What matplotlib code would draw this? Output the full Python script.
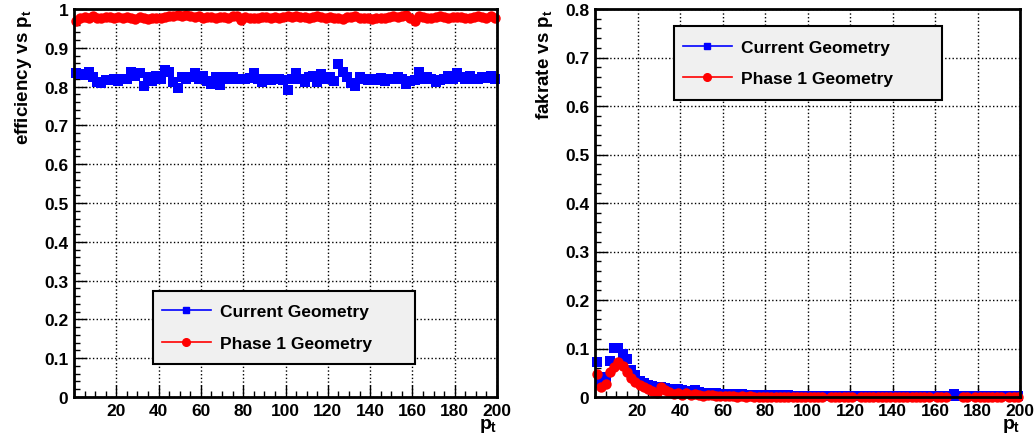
import numpy as np
import matplotlib.pyplot as plt
from matplotlib.lines import Line2D
from matplotlib.patches import Rectangle
from matplotlib.ticker import MultipleLocator

plt.rcParams['font.family'] = ['Liberation Sans', 'DejaVu Sans']
plt.rcParams['font.weight'] = 'bold'
plt.rcParams['mathtext.fontset'] = 'custom'
plt.rcParams['mathtext.rm'] = 'Liberation Sans:bold'
plt.rcParams['mathtext.it'] = 'Liberation Sans:bold'
plt.rcParams['mathtext.bf'] = 'Liberation Sans:bold'

# pt bins: 100 bins of width 2 from 0 to 200
pt = np.arange(1, 200, 2)

eff_current = [
    0.836, 0.832, 0.829, 0.838, 0.825, 0.812, 0.808, 0.816, 0.818, 0.819,
    0.815, 0.819, 0.820, 0.838, 0.828, 0.834, 0.801, 0.826, 0.815, 0.828,
    0.820, 0.844, 0.838, 0.812, 0.797, 0.826, 0.819, 0.824, 0.836, 0.820,
    0.828, 0.815, 0.806, 0.826, 0.804, 0.826, 0.819, 0.826, 0.820, 0.819,
    0.820, 0.822, 0.836, 0.819, 0.812, 0.819, 0.817, 0.819, 0.820, 0.818,
    0.791, 0.819, 0.834, 0.819, 0.812, 0.826, 0.828, 0.812, 0.832, 0.819,
    0.824, 0.815, 0.857, 0.838, 0.826, 0.810, 0.802, 0.826, 0.819, 0.817,
    0.819, 0.818, 0.821, 0.815, 0.819, 0.819, 0.826, 0.820, 0.806, 0.815,
    0.817, 0.838, 0.819, 0.826, 0.819, 0.812, 0.818, 0.819, 0.828, 0.819,
    0.834, 0.826, 0.819, 0.828, 0.820, 0.819, 0.826, 0.822, 0.828, 0.819,
]
eff_phase1 = [
    0.968, 0.976, 0.979, 0.978, 0.981, 0.976, 0.978, 0.980, 0.979, 0.977,
    0.979, 0.978, 0.980, 0.978, 0.975, 0.979, 0.976, 0.974, 0.977, 0.976,
    0.978, 0.979, 0.981, 0.982, 0.984, 0.983, 0.985, 0.982, 0.979, 0.981,
    0.978, 0.980, 0.979, 0.977, 0.979, 0.980, 0.978, 0.981, 0.983, 0.971,
    0.979, 0.977, 0.978, 0.976, 0.980, 0.979, 0.977, 0.979, 0.978, 0.980,
    0.981, 0.979, 0.983, 0.980, 0.979, 0.977, 0.979, 0.981, 0.979, 0.978,
    0.980, 0.977, 0.976, 0.974, 0.979, 0.980, 0.981, 0.978, 0.977, 0.976,
    0.975, 0.976, 0.977, 0.978, 0.980, 0.981, 0.979, 0.983, 0.985, 0.976,
    0.970, 0.982, 0.979, 0.978, 0.977, 0.979, 0.981, 0.980, 0.978, 0.979,
    0.980, 0.979, 0.977, 0.978, 0.980, 0.981, 0.979, 0.978, 0.981, 0.977,
]

fake_current = [
    0.072, 0.031, 0.041, 0.075, 0.101, 0.101, 0.089, 0.078, 0.055, 0.045,
    0.033, 0.028, 0.024, 0.022, 0.021, 0.020, 0.018, 0.016, 0.015, 0.016,
    0.014, 0.012, 0.013, 0.015, 0.011, 0.008, 0.009, 0.007, 0.008, 0.007,
    0.007, 0.006, 0.006, 0.005, 0.006, 0.005, 0.004, 0.005, 0.004, 0.004,
    0.004, 0.003, 0.004, 0.003, 0.004, 0.004, 0.003, 0.003, 0.003, 0.003,
    0.003, 0.002, 0.003, 0.003, 0.002, 0.003, 0.002, 0.003, 0.002, 0.002,
    0.003, 0.002, 0.002, 0.003, 0.002, 0.002, 0.003, 0.002, 0.002, 0.002,
    0.003, 0.002, 0.002, 0.002, 0.003, 0.002, 0.003, 0.002, 0.002, 0.002,
    0.002, 0.002, 0.002, 0.003, 0.006, 0.003, 0.002, 0.002, 0.002, 0.002,
    0.002, 0.002, 0.002, 0.002, 0.002, 0.002, 0.002, 0.003, 0.002, 0.002,
]
# empty bins are left undrawn
nan = np.nan
fake_phase1 = [
    0.048, 0.021, 0.027, 0.052, 0.062, 0.072, 0.064, 0.052, 0.040, 0.031,
    0.024, 0.020, 0.017, 0.012, 0.009, 0.021, 0.015, 0.010, 0.006, 0.009,
    0.004, 0.008, 0.005, 0.007, 0.004, 0.003, 0.005, 0.004, 0.003, 0.003,
    0.002, 0.002, 0.002, 0.001, 0.002, 0.001, 0.002, 0.001, 0.001, 0.001,
    0.001, 0.001, 0.001, 0.001, 0.001, 0.001, 0.001, 0.001, 0.001, 0.001,
    0.001, 0.001, 0.001, 0.001, nan, 0.001, 0.001, 0.001, 0.001, 0.001,
    0.001, nan, 0.001, 0.001, 0.001, 0.001, 0.001, 0.001, 0.001, 0.001,
    0.001, 0.001, 0.001, 0.001, 0.001, 0.001, 0.001, 0.001, 0.001, nan,
    0.001, 0.001, 0.001, nan, nan, nan, 0.001, 0.001, nan, 0.001,
    0.001, 0.001, 0.001, 0.001, 0.001, 0.001, nan, 0.001, 0.001, 0.001,
]

labels = ['Current Geometry', 'Phase 1 Geometry']

W, H = 1035, 439
fig = plt.figure(figsize=(W / 100, H / 100), dpi=100)

SQ, CI = 6.5, 7.5  # marker sizes


def px_axes(x0, x1, y0, y1):
    return fig.add_axes([x0 / W, 1 - y1 / H, (x1 - x0) / W, (y1 - y0) / H])


def style(ax, ymax, ylabel):
    ax.set_xlim(0, 200)
    ax.set_ylim(0, ymax)
    ax.xaxis.set_minor_locator(MultipleLocator(5))
    ax.yaxis.set_minor_locator(MultipleLocator(0.02))
    ax.tick_params(which='both', direction='in', labelsize=12.5, pad=4, width=1)
    ax.tick_params(which='major', length=9)
    ax.tick_params(which='minor', length=4.5)
    ax.set_xticks(np.arange(0, 201, 20))
    ax.set_xticklabels([''] + [str(v) for v in range(20, 201, 20)])
    yt = np.round(np.arange(0, ymax + 0.001, 0.1), 1)
    ax.set_yticks(yt)
    ax.set_yticklabels([f'{v:g}' for v in yt])
    ax.grid(True, which='major', color='black', linestyle=':', linewidth=1)
    for s in ax.spines.values():
        s.set_linewidth(2)
    ax.set_ylabel(ylabel, fontsize=13.5, fontweight='bold', loc='top')
    ax.yaxis.set_label_coords(-0.095, 1.0)
    ax.set_xlabel(r'$p_t$', fontsize=14, loc='right')
    ax.xaxis.set_label_coords(1.0, -0.05)


def legend_box(ax, x0, x1, y0, y1):
    box = Rectangle((x0 / W, 1 - y1 / H), (x1 - x0) / W, (y1 - y0) / H,
                    transform=fig.transFigure, facecolor='#f0f0f0',
                    edgecolor='black', linewidth=1.5, zorder=5, clip_on=False)
    ax.add_artist(box)
    handles = [
        Line2D([], [], color='blue', marker='s', markersize=5, lw=1.2),
        Line2D([], [], color='red', marker='o', markersize=5.5, lw=1.2),
    ]
    leg = ax.legend(handles, labels, loc='center left',
                    bbox_to_anchor=((x0 + 9) / W, 1 - (y0 + y1) / 2 / H),
                    bbox_transform=fig.transFigure, frameon=False,
                    borderpad=0, borderaxespad=0, handlelength=2.8,
                    handletextpad=0.55, labelspacing=0.95,
                    prop={'size': 12.5, 'weight': 'bold'})
    leg.set_zorder(6)


# efficiency
ax1 = px_axes(74, 497, 10, 398)
ax1.plot(pt, eff_current, 's', color='blue', markersize=SQ, markeredgewidth=0, clip_on=False)
ax1.plot(pt, eff_phase1, 'o', color='red', markersize=CI, markeredgewidth=0, clip_on=False)
style(ax1, 1.0, r'efficiency vs $p_t$')
legend_box(ax1, 153, 415, 292, 365)

# fake rate
ax2 = px_axes(595, 1020, 10, 398)
ax2.plot(pt, fake_current, 's', color='blue', markersize=SQ, markeredgewidth=0, clip_on=False)
ax2.plot(pt, fake_phase1, 'o', color='red', markersize=CI, markeredgewidth=0, clip_on=False)
style(ax2, 0.8, r'fakrate vs $p_t$')
legend_box(ax2, 674, 942, 27, 101)

fig.savefig('out.png', dpi=100)
